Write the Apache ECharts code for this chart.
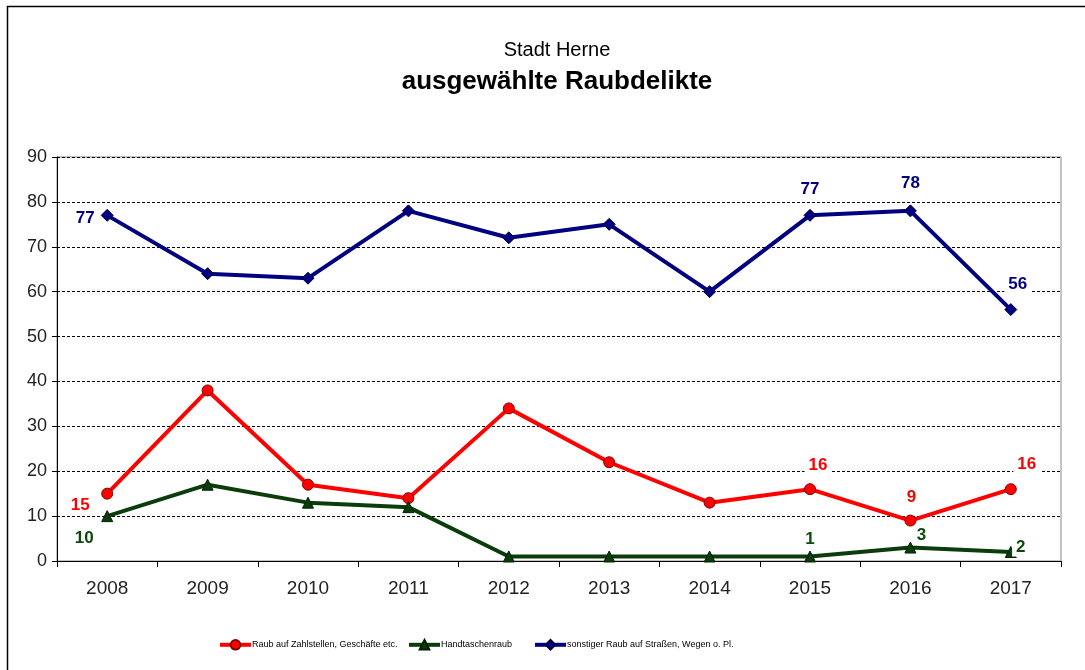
<!DOCTYPE html>
<html>
<head>
<meta charset="utf-8">
<script src="https://cdn.jsdelivr.net/npm/echarts@6/dist/echarts.min.js"></script>
<style>
  html, body { margin: 0; padding: 0; background: #fff; }
  #chart { width: 1085px; height: 670px; }
</style>
</head>
<body>
<div id="chart"></div>
<script>
// Jahre und Werte
const years = ['2008', '2009', '2010', '2011', '2012', '2013', '2014', '2015', '2016', '2017'];
const zahlstellen = [15, 38, 17, 14, 34, 22, 13, 16, 9, 16];
const handtaschen = [10, 17, 13, 12, 1, 1, 1, 1, 3, 2];
const sonstiger = [77, 64, 63, 78, 72, 75, 60, 77, 78, 56];
const yTicks = [0, 10, 20, 30, 40, 50, 60, 70, 80, 90];
const names = ['Raub auf Zahlstellen, Geschäfte etc.', 'Handtaschenraub', 'sonstiger Raub auf Straßen, Wegen o. Pl.'];

// welche Punkte beschriftet werden (Index -> Lage des Labels)
const redLabels = { 0: [-27, 12], 7: [8, -24], 8: [1, -23], 9: [16, -25] };
const greenLabels = { 0: [-23, 22], 7: [0, -17], 8: [11, -12], 9: [10, -5] };
const blueLabels = { 0: [-22, 3], 7: [0, -26], 8: [0, -28], 9: [7, -25] };

const font = 'Arial, Liberation Sans, sans-serif';

function withLabels(values, labels, color) {
  return values.map((v, i) => {
    if (!(i in labels)) return v;
    return {
      value: v,
      label: {
        show: true,
        position: 'inside',
        offset: labels[i],
        color: color,
        fontFamily: font,
        fontWeight: 'bold',
        fontSize: 17,
        backgroundColor: '#fff',
        padding: [1, 4]
      }
    };
  });
}

function legendAt(name, left) {
  return {
    data: [name],
    left: left,
    top: 639,
    padding: 0,
    itemWidth: 31,
    itemHeight: 12,
    lineStyle: { width: 4 },
    textStyle: { fontFamily: font, fontSize: 9, color: '#000', padding: [0, 0, 0, -4] }
  };
}

const chart = echarts.init(document.getElementById('chart'));

chart.setOption({
  animation: false,
  title: [
    { text: 'Stadt Herne', left: 552, top: 35, textAlign: 'center',
      textStyle: { fontFamily: font, fontSize: 20, fontWeight: 'normal', color: '#000' } },
    { text: 'ausgewählte Raubdelikte', left: 552, top: 64, textAlign: 'center',
      textStyle: { fontFamily: font, fontSize: 26, fontWeight: 'bold', color: '#000' } }
  ],
  graphic: [{
    type: 'rect',
    shape: { x: 7.5, y: 6.5, width: 1100, height: 700 },
    style: { fill: 'none', stroke: '#000', lineWidth: 1.5 },
    silent: true
  }],
  legend: [
    legendAt(names[0], 218),
    legendAt(names[1], 407),
    legendAt(names[2], 533)
  ],
  grid: {
    left: 57, right: 24, top: 157, bottom: 109,
    show: true, borderColor: '#888', borderWidth: 1
  },
  xAxis: {
    type: 'category',
    data: years,
    boundaryGap: true,
    axisLine: { lineStyle: { color: '#000', width: 1 } },
    axisTick: { show: true, length: 6, lineStyle: { color: '#000' } },
    axisLabel: { fontFamily: font, fontSize: 19, color: '#222', margin: 18 }
  },
  yAxis: {
    type: 'value',
    min: yTicks[0],
    max: yTicks[yTicks.length - 1],
    interval: 10,
    axisLine: { show: true, lineStyle: { color: '#000', width: 1 } },
    axisTick: { show: true, length: 5, lineStyle: { color: '#000' } },
    axisLabel: { fontFamily: font, fontSize: 18, color: '#222', margin: 10 },
    splitLine: { show: true, lineStyle: { color: '#000', type: [3, 2], width: 1 } }
  },
  series: [
    {
      name: names[0],
      type: 'line',
      data: withLabels(zahlstellen, redLabels, '#ff0000'),
      symbol: 'circle',
      symbolSize: 11,
      lineStyle: { color: '#ff0000', width: 4 },
      itemStyle: { color: '#ff0000', borderColor: '#800000', borderWidth: 1 },
      z: 3
    },
    {
      name: names[1],
      type: 'line',
      data: withLabels(handtaschen, greenLabels, '#0b4a0b'),
      symbol: 'triangle',
      symbolSize: 11,
      lineStyle: { color: '#0b3d0b', width: 4 },
      itemStyle: { color: '#0b3d0b', borderColor: '#002000', borderWidth: 1 },
      z: 3
    },
    {
      name: names[2],
      type: 'line',
      data: withLabels(sonstiger, blueLabels, '#000080'),
      symbol: 'diamond',
      symbolSize: 12,
      lineStyle: { color: '#000080', width: 4 },
      itemStyle: { color: '#000080', borderColor: '#000040', borderWidth: 1 },
      z: 3
    }
  ]
});
</script>
</body>
</html>
